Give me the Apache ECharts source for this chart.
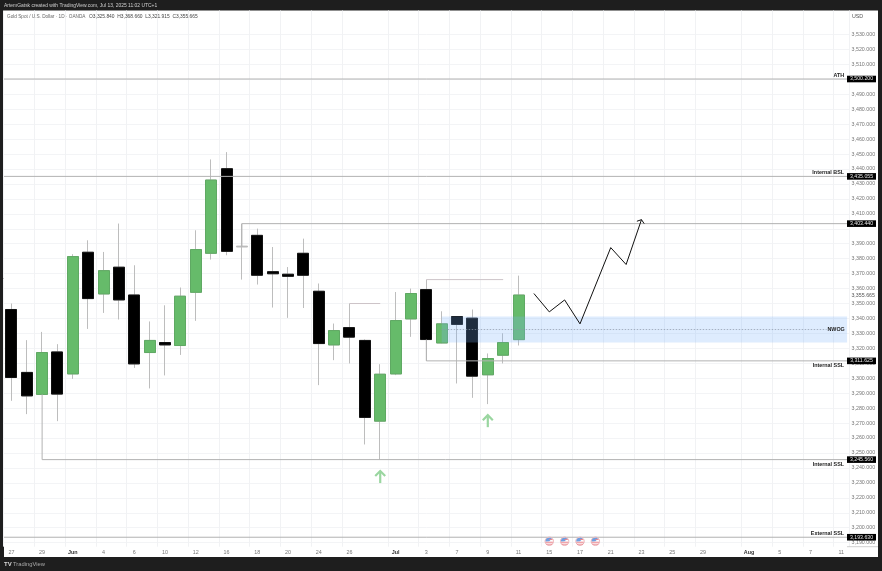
<!DOCTYPE html>
<html><head><meta charset="utf-8">
<style>html,body{margin:0;padding:0;background:#1e1e1e}#c{width:882px;height:571px}</style>
<script src="https://cdn.jsdelivr.net/npm/echarts@6/dist/echarts.min.js"></script>
</head><body><div id="c"></div>
<script>
const FONT = '"Liberation Sans", Arial, sans-serif';
const categories = ['05-27','05-28','05-29','05-30','06-02','06-03','06-04','06-05','06-06','06-09','06-10','06-11','06-12','06-13','06-16','06-17','06-18','06-19','06-20','06-23','06-24','06-25','06-26','06-27','06-30','07-01','07-02','07-03','07-04','07-07','07-08','07-09','07-10','07-11','07-14','07-15','07-16','07-17','07-18','07-21','07-22','07-23','07-24','07-25','07-28','07-29','07-30','07-31','08-01','08-04','08-05','08-06','08-07','08-08','08-11'];
const tickLabels = {'05-27':'27','05-29':'29','06-02':'Jun','06-04':'4','06-06':'6','06-10':'10','06-12':'12','06-16':'16','06-18':'18','06-20':'20','06-24':'24','06-26':'26','07-01':'Jul','07-03':'3','07-07':'7','07-09':'9','07-11':'11','07-15':'15','07-17':'17','07-21':'21','07-23':'23','07-25':'25','07-29':'29','08-01':'Aug','08-05':'5','08-07':'7','08-11':'11'};
const monthLabels = ['Jun','Jul','Aug'];
const priceTicks = [3190,3200,3210,3220,3230,3240,3250,3260,3270,3280,3290,3300,3310,3320,3330,3340,3350,3360,3370,3380,3390,3400,3410,3420,3430,3440,3450,3460,3470,3480,3490,3500,3510,3520,3530];
const hiddenPriceLabels = [3400];

const opens  = [3346,3303.9,3289.2,3317.6,3302.9,3384.3,3356.4,3374.3,3355.7,3317.2,3323.9,3321.9,3357.5,3383.6,3440.2,3388.4,3395.6,3371.3,3369.6,3383.6,3358.2,3322.3,3333.9,3325.3,3271.3,3302.9,3339.7,3359.3,3323.6,3341.3,3340.2,3302.3,3315.4,3325.84];
const closes = [3300.5,3288.2,3317.2,3289.4,3381.4,3353.3,3372,3352.4,3309.6,3325.3,3322.3,3354.9,3386.1,3432.6,3384.9,3387.8,3368.9,3369.9,3368.2,3368.9,3323.2,3331.9,3327.5,3273.8,3302.7,3338.6,3356.7,3325.9,3336.4,3336,3301.4,3313.2,3323.9,3355.665];
const lows   = [3284.9,3276,3289.2,3271.3,3299.6,3333,3343.7,3339.3,3306.9,3293.2,3301.9,3315.6,3338.4,3379.4,3382.3,3366,3362.7,3347.3,3340.4,3347,3295.4,3312.1,3309.9,3255.7,3245.56,3302.1,3327.7,3311.625,3323.4,3296.5,3286.9,3282.7,3309.9,3321.915];
const highs  = [3350,3325.5,3331,3322.8,3383,3392.3,3384.5,3403.5,3375.6,3338,3348.8,3360.7,3399,3446.4,3451.3,3403.44,3400.1,3387.8,3374.4,3393.4,3363.4,3336.6,3350,3326,3309.4,3357.7,3360,3366,3344.8,3341.5,3346,3316.6,3330.1,3368.66];
const greyDojiIndex = 15;

const levelPrices  = [3500.2,3435.055,3403.44,3311.625,3245.56,3193.63];
const levelStarts  = [-1,-1,15,27,2,-1];
const levelAnchors = [null,null,3388,3325.9,3289.2,null];
const levelNames   = ['ATH','Internal BSL','','Internal SSL','Internal SSL','External SSL'];
const levelNameAbove = [true,true,true,false,false,true];
const lastPrice = 3355.665;

const segStarts = [22,27];
const segEnds   = [24,32];
const segPrices = [3350,3366];

const zoneStart = 28, zoneTop = 3341.3, zoneBottom = 3323.9, zoneMid = 3332.6;

const pathX = [34,35,36,37,39,40,41];
const pathY = [3356.7,3344.4,3352.4,3336.4,3387.4,3376.1,3406.1];
const arrowX = [24,31];
const arrowY = [3237.9,3275.3];
const flagX = [35,36,37,38];
const flagY = [3190.9,3190.9,3190.9,3190.9];

const fmt = v => v.toLocaleString('en-US',{minimumFractionDigits:3,maximumFractionDigits:3});
const isTick = i => tickLabels[categories[i]] !== undefined;
const GREEN='#66bb6a', GREEN_B='#5fa963', WICK='#bdbdbd', LINE='#b2b2b2';

const wickData = opens.map((o,i)=>[o,closes[i],lows[i],highs[i]]);
const bodyData = opens.map((o,i)=> i===greyDojiIndex ? ['-','-','-','-'] :
  [o,closes[i],Math.min(o,closes[i]),Math.max(o,closes[i])]);

function renderLevel(params, api){
  const i = params.dataIndex, cs = params.coordSys;
  const right = 847+1.6, p = levelPrices[i];
  const y = api.coord([0,p])[1];
  const x0 = levelStarts[i]<0 ? 4 : api.coord([levelStarts[i],p])[0];
  const pts = [];
  if(levelAnchors[i]!==null) pts.push([x0,api.coord([0,levelAnchors[i]])[1]]);
  pts.push([x0,y],[right,y]);
  const children = [
    {type:'polyline',shape:{points:pts},style:{fill:'none',stroke:LINE,lineWidth:1}},
    {type:'rect',shape:{x:right-1.6,y:y-3.3,width:29,height:6.6},style:{fill:'#000'}},
    {type:'text',style:{x:right+12.9,y:y,text:fmt(p),fill:'#e8e8e8',font:'5.2px '+FONT,align:'center',verticalAlign:'middle'}}
  ];
  if(levelNames[i]) children.push({type:'text',style:{x:right-4.5,y:y+(levelNameAbove[i]?-4:4.8),text:levelNames[i],fill:'#222',font:'bold 5.4px '+FONT,align:'right',verticalAlign:'middle'}});
  return {type:'group',children};
}
function renderSeg(params, api){
  const i=params.dataIndex, a=api.coord([segStarts[i],segPrices[i]]), b=api.coord([segEnds[i],segPrices[i]]);
  return {type:'line',shape:{x1:a[0],y1:a[1],x2:b[0],y2:b[1]},style:{stroke:'#cdc4c8',lineWidth:1}};
}
function renderZone(params, api){
  const right=848.6;
  const a=api.coord([zoneStart,zoneTop]), b=api.coord([zoneStart,zoneBottom]), m=api.coord([zoneStart,zoneMid]);
  return {type:'group',children:[
    {type:'rect',shape:{x:a[0],y:a[1],width:right-a[0]-1.5,height:b[1]-a[1]},style:{fill:'rgba(124,180,250,0.25)'}},
    {type:'line',shape:{x1:a[0],y1:m[1],x2:right-22,y2:m[1]},style:{stroke:'#8b97a8',lineWidth:0.7,lineDash:[1.5,1.5]}},
    {type:'text',style:{x:right-3.8,y:m[1],text:'NWOG',fill:'#222',font:'bold 5.4px '+FONT,align:'right',verticalAlign:'middle'}}
  ]};
}
function renderHead(params, api){
  const t=api.coord([pathX[pathX.length-1],pathY[pathY.length-1]]);
  return {type:'polyline',shape:{points:[[t[0]-4.6,t[1]+1.6],[t[0],t[1]],[t[0]+2.7,t[1]+4]]},style:{fill:'none',stroke:'#111',lineWidth:1}};
}
function renderUp(params, api){
  const t=api.coord([arrowX[params.dataIndex],arrowY[params.dataIndex]]);
  const st={fill:'none',stroke:'#9ad6a0',lineWidth:2.2};
  return {type:'group',children:[
    {type:'line',shape:{x1:t[0],y1:t[1],x2:t[0],y2:t[1]+12},style:st},
    {type:'polyline',shape:{points:[[t[0]-5,t[1]+5],[t[0],t[1]],[t[0]+5,t[1]+5]]},style:st}
  ]};
}
function renderFlag(params, api){
  const c=api.coord([flagX[params.dataIndex],flagY[params.dataIndex]]);
  const r=4.2, ch=[{type:'circle',shape:{cx:c[0],cy:c[1],r:r},style:{fill:'#fff',stroke:'#e6a0a4',lineWidth:0.8}}];
  ch.push({type:'rect',shape:{x:c[0]-r+0.6,y:c[1]+0.4,width:2*r-1.2,height:1},style:{fill:'#e9828a'}});
  ch.push({type:'rect',shape:{x:c[0]-r+1.2,y:c[1]+2.4,width:2*r-2.4,height:0.9},style:{fill:'#e9828a'}});
  ch.push({type:'sector',shape:{cx:c[0],cy:c[1],r0:0,r:r-0.5,startAngle:Math.PI*0.98,endAngle:Math.PI*1.75},style:{fill:'#6f9fe0'}});
  ch.push({type:'rect',shape:{x:c[0],y:c[1]-2.4,width:r-1,height:1},style:{fill:'#e9828a'}});
  return {type:'group',children:ch};
}
const idx = a => a.map((_,i)=>[i,0]);

const chart = echarts.init(document.getElementById('c'),null,{renderer:'canvas'});
chart.setOption({
  animation:false,
  backgroundColor:'#1e1e1e',
  textStyle:{fontFamily:FONT},
  grid:{left:3.7,right:33.05,top:10.5,bottom:24.3,containLabel:false},
  graphic:[
    {type:'rect',z:-10,silent:true,shape:{x:4,y:10.5,width:874,height:546.5},style:{fill:'#fff'}},
    {type:'text',z:5,left:4,top:3,style:{text:'ArtemGatsk created with TradingView.com, Jul 13, 2025 11:02 UTC+1',fill:'#d0d0d0',font:'4.95px '+FONT}},
    {type:'text',z:5,left:7,top:14.2,style:{text:'Gold Spot / U.S. Dollar · 1D · OANDA',fill:'#666',font:'4.7px '+FONT}},
    {type:'text',z:5,left:89,top:14.2,style:{text:'O3,325.840  H3,368.660  L3,321.915  C3,355.665',fill:'#444',font:'4.9px '+FONT}},
    {type:'text',z:5,left:852,top:14,style:{text:'USD',fill:'#555',font:'5.3px '+FONT}},
    {type:'text',z:5,left:4,top:561,style:{text:'TV',fill:'#d8d8d8',font:'bold 6px '+FONT}},
    {type:'text',z:5,left:13,top:561,style:{text:'TradingView',fill:'#aaa',font:'5.8px '+FONT}},
    {type:'line',z:5,shape:{x1:847,y1:546.7,x2:878,y2:546.7},style:{stroke:'#c4c4c4',lineWidth:0.8}}
  ],
  xAxis:{type:'category',data:categories,boundaryGap:true,
    axisLine:{show:false},
    axisTick:{show:false,alignWithLabel:true,interval:i=>isTick(i)},
    splitLine:{show:true,interval:i=>isTick(i),lineStyle:{color:'#f1f2f4',width:1}},
    axisLabel:{interval:i=>isTick(i),margin:3,hideOverlap:false,fontSize:5.4,color:'#777',fontFamily:FONT,
      formatter:v=>{const t=tickLabels[v];return monthLabels.includes(t)?'{m|'+t+'}':t;},
      rich:{m:{fontSize:5.4,fontWeight:'bold',color:'#333',fontFamily:FONT}}}
  },
  yAxis:{type:'value',position:'right',min:3187.3,max:3546.04,scale:true,
    axisLine:{show:false},
    axisTick:{show:false,customValues:priceTicks},
    splitLine:{show:true,lineStyle:{color:'#f3f4f6',width:1}},
    axisLabel:{customValues:priceTicks,margin:2.6,fontSize:5.3,color:'#777',fontFamily:FONT,formatter:v=>hiddenPriceLabels.includes(v)?'':fmt(v)}
  },
  series:[
    {name:'Wicks',type:'candlestick',z:2,barWidth:11.5,data:wickData,silent:true,
      itemStyle:{color:WICK,color0:WICK,borderColor:WICK,borderColor0:WICK,borderWidth:1}},
    {name:'Gold Spot',type:'candlestick',z:3,barWidth:11.5,data:bodyData,silent:true,
      itemStyle:{color:GREEN,color0:'#000',borderColor:GREEN_B,borderColor0:'#111',borderWidth:1}},
    {name:'Levels',type:'custom',z:4,clip:false,silent:true,data:idx(levelPrices),renderItem:renderLevel},
    {name:'Segments',type:'custom',z:4,clip:false,silent:true,data:idx(segPrices),renderItem:renderSeg},
    {name:'NWOG',type:'custom',z:5,clip:false,silent:true,data:[[zoneStart,zoneMid]],renderItem:renderZone},
    {name:'Projection',type:'line',z:6,symbol:'none',silent:true,data:pathX.map((x,i)=>[x,pathY[i]]),lineStyle:{color:'#111',width:1}},
    {name:'Head',type:'custom',z:6,clip:false,silent:true,data:[[0,0]],renderItem:renderHead},
    {name:'Arrows',type:'custom',z:6,clip:false,silent:true,data:idx(arrowX),renderItem:renderUp},
    {name:'Events',type:'custom',z:6,clip:false,silent:true,data:idx(flagX),renderItem:renderFlag},
    {name:'Last',type:'custom',z:6,clip:false,silent:true,data:[[0,lastPrice]],renderItem:(p,api)=>{
      const y=api.coord([0,lastPrice])[1];
      return {type:'text',style:{x:851.4,y:y,text:fmt(lastPrice),fill:'#555',font:'5.3px '+FONT,align:'left',verticalAlign:'middle'}};
    }}
  ]
});
</script></body></html>
